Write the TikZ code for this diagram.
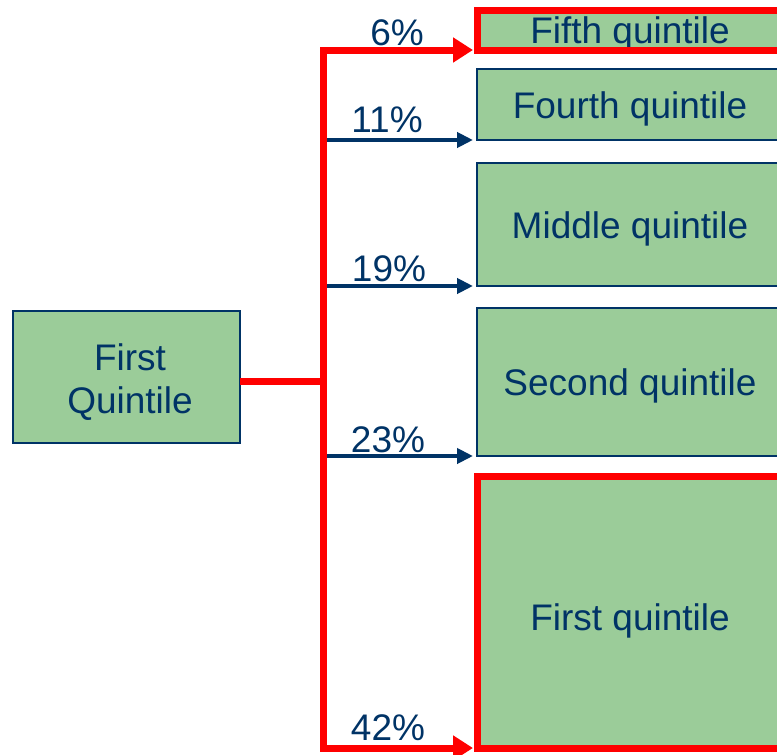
\documentclass[tikz,border=0pt]{standalone}
\usepackage{fontspec}
\setmainfont{Liberation Sans}
\usetikzlibrary{arrows.meta}
\definecolor{boxgreen}{RGB}{155,204,153}
\definecolor{navy}{RGB}{0,51,102}
\definecolor{hired}{RGB}{255,0,0}
\tikzset{
  bigfont/.style={font=\fontsize{37}{43}\selectfont},
  plainbox/.style={fill=boxgreen, draw=navy, line width=1.5pt, outer sep=0pt,
    inner sep=0pt, text=navy, bigfont},
  qbox/.style={plainbox, minimum width=306pt, text height=27pt, text depth=0pt},
  hotbox/.style={qbox, draw=none},
  redframe/.style={draw=hired, line width=7pt, line join=miter},
  redflow/.style={draw=hired, line width=7pt, line join=miter,
    {Triangle[length=20pt,width=24pt]}-{Triangle[length=20pt,width=24pt]},
    shorten <=4pt, shorten >=4pt},
  blueflow/.style={draw=navy, line width=4pt,
    -{Triangle[length=16pt,width=15pt]}, shorten >=4pt},
  pct/.style={anchor=base, inner sep=0pt, text=navy, bigfont},
}
\begin{document}
\begin{tikzpicture}[x=1pt, y=-1pt]
  \useasboundingbox (0,0) rectangle (777,755);
  \clip (0,0) rectangle (777,755);

  % origin quintile
  \node[plainbox, minimum width=227pt, minimum height=132pt,
        text height=59pt, text depth=34.5pt]
    (src) at (126.5,377)
    {\kern7pt\begin{tabular}{@{}c@{}}First\\Quintile\end{tabular}};

  % destination quintiles
  \node[hotbox, minimum height=40pt]  (q5) at (630,30)    {Fifth quintile};
  \node[qbox,   minimum height=71pt]  (q4) at (630,104.5) {Fourth quintile};
  \node[qbox,   minimum height=123pt] (q3) at (630,224.5) {Middle quintile};
  \node[qbox,   minimum height=148pt] (q2) at (630,382)   {Second quintile};
  \node[hotbox, minimum height=272pt, text height=36pt] (q1) at (630,612) {First quintile};

  % trunk of the branching connector
  \coordinate (trunk) at (323,51);
  \coordinate (branch) at (323,381);

  % minor transitions
  \draw[blueflow] (trunk |- q4.south west) -- (q4.south west);
  \draw[blueflow] (trunk |- q3.south west) -- (q3.south west);
  \draw[blueflow] (trunk |- q2.south west) -- (q2.south west);

  % highlighted transitions
  \draw[redflow] (q5.south west) -- (trunk |- q5.south west)
                 -- (trunk |- q1.south west) -- (q1.south west);
  \draw[redframe] (branch -| src.east) -- (branch);
  \draw[redframe] (q5.south west) rectangle (q5.north east);
  \draw[redframe] (q1.south west) rectangle (q1.north east);

  % shares
  \node[pct] (p6)  at (397,45)  {6\%};
  \node[pct] (p11) at (387,132) {11\%};
  \node[pct] (p19) at (389,281) {19\%};
  \node[pct] (p23) at (388,452) {23\%};
  \node[pct] (p42) at (388,740) {42\%};
\end{tikzpicture}
\end{document}
